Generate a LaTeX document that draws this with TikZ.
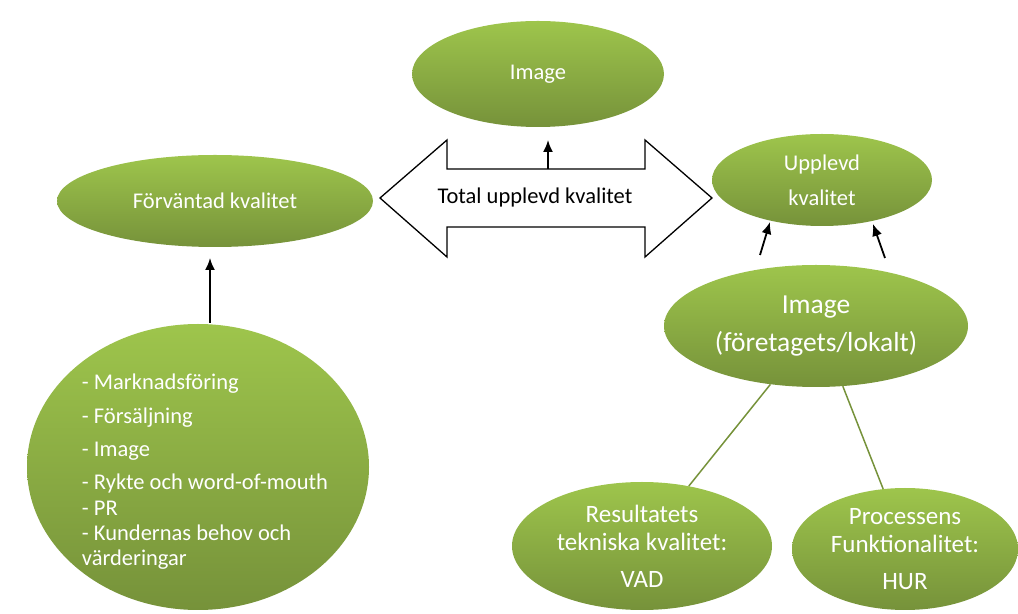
\documentclass[tikz,border=0pt]{standalone}
\usepackage{fontspec}
\setmainfont{Carlito}
\usetikzlibrary{shapes.geometric,arrows.meta}
\definecolor{leafhi}{RGB}{158,197,76}
\definecolor{leaflo}{RGB}{118,146,58}
\tikzset{
  blob/.style={ellipse,inner sep=0pt,top color=leafhi,bottom color=leaflo,draw=none,text=white,align=center},
  link/.style={draw=leaflo,line width=1.5bp},
}
\begin{document}
\begin{tikzpicture}[>={Latex[length=12bp,width=10bp]},line join=bevel,]
\useasboundingbox (0bp,0bp) rectangle (1018bp,614bp);
%%
\node (imgtop) at (538bp,540bp) [blob,minimum width=252bp,minimum height=106bp,font=\fontsize{22.5bp}{26bp}\selectfont] {Image};
  \node (forv) at (215bp,413bp) [blob,minimum width=316bp,minimum height=92bp,font=\fontsize{22.5bp}{26bp}\selectfont] {Förväntad kvalitet};
  \node (upplevd) at (822bp,434bp) [blob,minimum width=220bp,minimum height=92bp,font=\fontsize{22.5bp}{35bp}\selectfont] {Upplevd\\kvalitet};
  \node (imgloc) at (816bp,288bp) [blob,minimum width=304bp,minimum height=122bp,font=\fontsize{27.5bp}{38bp}\selectfont] {Image\\(företagets/lokalt)};
  \node (infl) at (198bp,147bp) [blob,minimum width=342bp,minimum height=286bp] {};
  \node (infltxt) at (205bp,142bp) [text=white,align=left,inner sep=0pt,font=\fontsize{22.5bp}{25bp}\selectfont] {- Marknadsföring\\[9bp]- Försäljning\\[8bp]- Image\\[8bp]- Rykte och word-of-mouth\\[1bp]- PR\\- Kundernas behov och\\värderingar};
  \node (result) at (642bp,68bp) [blob,minimum width=260bp,minimum height=128bp,font=\fontsize{25bp}{28bp}\selectfont] {Resultatets\\tekniska kvalitet:\\[9bp]VAD};
  \node (process) at (905bp,65bp) [blob,minimum width=226bp,minimum height=122bp,font=\fontsize{25bp}{28bp}\selectfont] {Processens\\Funktionalitet:\\[9bp]HUR};
%
  \draw [line width=1.3bp,line join=miter,fill=white] (380bp,416bp) -- (447bp,474bp) -- (447bp,445bp) -- (645bp,445bp) -- (645bp,474bp) -- (712bp,416bp) -- (645bp,357bp) -- (645bp,387bp) -- (447bp,387bp) -- (447bp,357bp) -- cycle;
  \node (total) at (535bp,416bp) [font=\fontsize{22.5bp}{26bp}\selectfont] {Total upplevd kvalitet};
  \coordinate (shaft) at (548bp,445bp);
  \coordinate (shafttip) at (548bp,474bp);
  \coordinate (inflend) at (210bp,291bp);
  \coordinate (forvtip) at (210bp,356bp);
  \coordinate (locl) at (760bp,359bp);
  \coordinate (loclt) at (770bp,392bp);
  \coordinate (locr) at (885bp,356bp);
  \coordinate (locrt) at (873bp,390bp);
%
  \draw [->,line width=1.8bp] (shaft) -- (shafttip);
  \draw [->,line width=1.8bp] (inflend) -- (forvtip);
  \draw [->,line width=1.8bp] (locl) -- (loclt);
  \draw [->,line width=1.8bp] (locr) -- (locrt);
  \draw [link] (imgloc.-128) -- (result.52);
  \draw [link] (imgloc.-66) -- (process.110);
%
\end{tikzpicture}
\end{document}
